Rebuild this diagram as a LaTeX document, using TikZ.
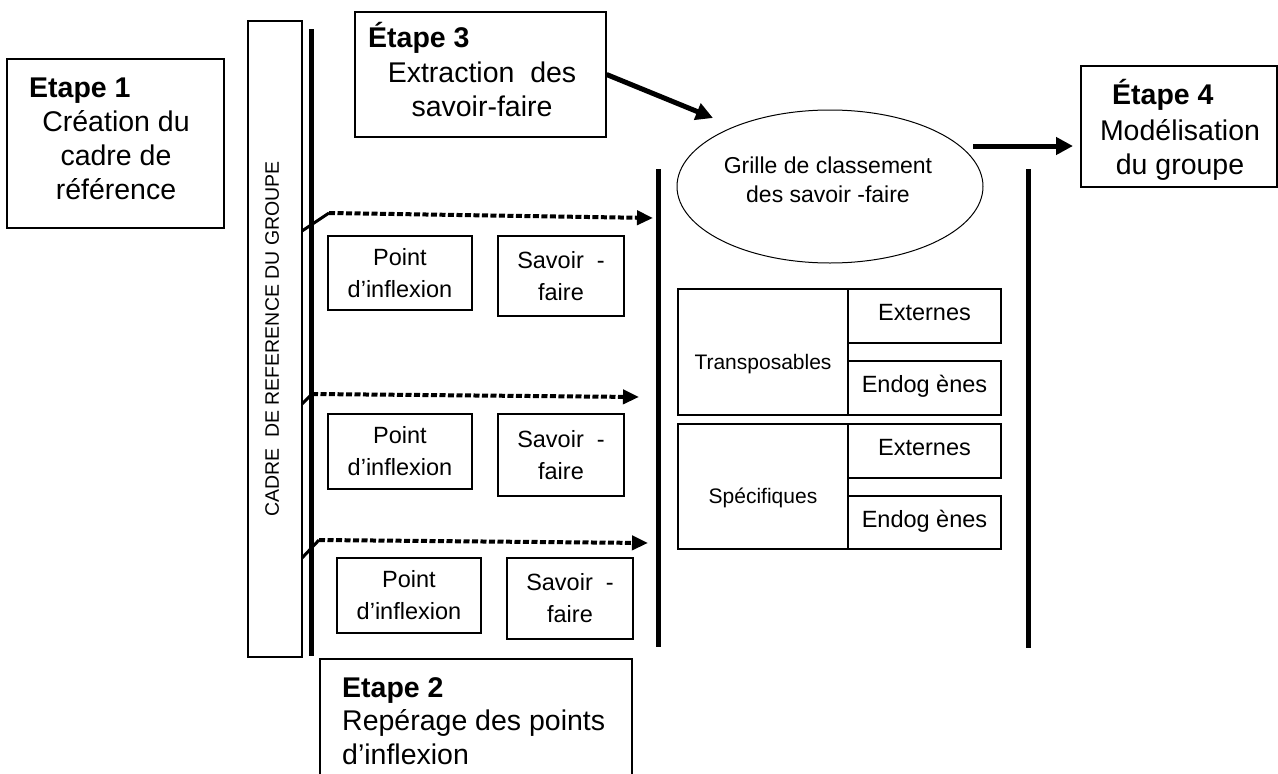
\documentclass[tikz,border=0pt]{standalone}
\usepackage{fontspec}
\setmainfont{Liberation Sans}
\usetikzlibrary{arrows.meta}
\usetikzlibrary{shapes.geometric}

\tikzset{
  stepbox/.style={draw, line width=1.2pt, inner sep=0pt},
  steptitle/.style={inner sep=0pt, anchor=base west, font=\fontsize{28.5}{34}\selectfont\bfseries},
  stepbody/.style={inner sep=0pt, anchor=base, align=center, font=\fontsize{28.5}{34}\selectfont},
  itembox/.style={draw, line width=1.2pt, inner sep=0pt, align=center, font=\fontsize{23.5}{32}\selectfont},
  catcell/.style={draw, line width=1.2pt, inner sep=0pt, minimum width=170pt, text height=34pt, text depth=0pt, font=\fontsize{21}{25}\selectfont},
  subcell/.style={draw, line width=1.2pt, inner sep=0pt, minimum width=153pt, minimum height=54pt, text height=13pt, text depth=4pt, font=\fontsize{23.5}{28}\selectfont},
  sepline/.style={line width=5pt},
  kneeline/.style={line width=3pt},
  dotarrow/.style={line width=4pt, dash pattern=on 6pt off 2.5pt, -{Triangle[length=16pt,width=14pt]}},
  bigarrow/.style={line width=5pt, -{Triangle[length=17pt,width=17pt]}}
}

\begin{document}
\begin{tikzpicture}[x=1pt, y=-1pt]
\useasboundingbox (0,0) rectangle (1278,774);
\clip (0,0) rectangle (1278,774);

% les quatre etapes
\node[stepbox, minimum width=217pt, minimum height=169pt] (e1) at (115.5,143.5) {};
\node[steptitle] (e1t) at (29,97) {Etape 1};
\node[stepbody] (e1b) at (116,199) {Création du\\cadre de\\référence};

\node[stepbox, minimum width=312pt, minimum height=141pt] (e2) at (476,729.5) {};
\node[steptitle] (e2t) at (342,697) {Etape 2};
\node[stepbody, anchor=base west, align=left] (e2b) at (342,764) {Repérage des points\\d’inflexion};

\node[stepbox, minimum width=251pt, minimum height=125pt] (e3) at (480.5,74.5) {};
\node[steptitle] (e3t) at (368,47) {Étape 3};
\node[stepbody] (e3b) at (482,116) {Extraction\ \ des\\savoir-faire};

\node[stepbox, minimum width=196pt, minimum height=121pt] (e4) at (1179,126.5) {};
\node[steptitle] (e4t) at (1112,104) {Étape 4};
\node[stepbody] (e4b) at (1180,174) {Modélisation\\du groupe};

% cadre de reference
\node[stepbox, rotate=90, minimum width=636pt, minimum height=54pt, text depth=6pt,
  font=\fontsize{19.5}{22}\selectfont] (cadre) at (275,339) {CADRE\ \ DE REFERENCE DU GROUPE};

\draw[sepline] (311,29) -- (311,656);
\draw[sepline] (658,169) -- (658,647);
\draw[sepline] (1028,169) -- (1028,648);

% points d'inflexion et savoir-faire
\node[itembox, minimum width=144pt, minimum height=74pt] (p1) at (400,273) {Point\\d’inflexion};
\node[itembox, minimum width=126pt, minimum height=80pt] (s1) at (561,276) {Savoir\ \ -\\faire};
\node[itembox, minimum width=144pt, minimum height=75pt] (p2) at (400,451.5) {Point\\d’inflexion};
\node[itembox, minimum width=126pt, minimum height=82pt] (s2) at (561,455) {Savoir\ \ -\\faire};
\node[itembox, minimum width=144pt, minimum height=75pt] (p3) at (409,595.5) {Point\\d’inflexion};
\node[itembox, minimum width=126pt, minimum height=81pt] (s3) at (570,598.5) {Savoir\ \ -\\faire};

\coordinate (k1s) at (302,231); \coordinate (k1m) at (329,213); \coordinate (k1e) at (653,218);
\coordinate (k2s) at (302,404); \coordinate (k2m) at (312,394); \coordinate (k2e) at (639,397);
\coordinate (k3s) at (302,558); \coordinate (k3m) at (319,540); \coordinate (k3e) at (648,543);
\draw[kneeline] (k1s) -- (k1m);
\draw[dotarrow] (k1m) -- (k1e);
\draw[kneeline] (k2s) -- (k2m);
\draw[dotarrow] (k2m) -- (k2e);
\draw[kneeline] (k3s) -- (k3m);
\draw[dotarrow] (k3m) -- (k3e);

% grille
\node[draw, ellipse, line width=1pt, inner sep=0pt, minimum width=306pt, minimum height=153pt] (grille) at (830,186.5) {};
\node[inner sep=0pt, anchor=base, align=center, font=\fontsize{23}{29}\selectfont] (grillet) at (828,202) {Grille de classement\\des savoir -faire};

\node[catcell, minimum height=126pt] (transp) at (763,352) {Transposables};
\node[subcell] (transpext) at (924.5,316) {Externes};
\node[subcell] (transpend) at (924.5,388) {Endog ènes};
\node[catcell, minimum height=125pt] (specif) at (763,486.5) {Spécifiques};
\node[subcell] (specifext) at (924.5,451) {Externes};
\node[subcell, minimum height=53pt] (specifend) at (924.5,522.5) {Endog ènes};

\coordinate (grillein) at (713,118);
\coordinate (grilleout) at (973,146);
\coordinate (e4in) at (1073,146);
\draw[bigarrow] (e3.east) -- (grillein);
\draw[bigarrow] (grilleout) -- (e4in);
\end{tikzpicture}
\end{document}
